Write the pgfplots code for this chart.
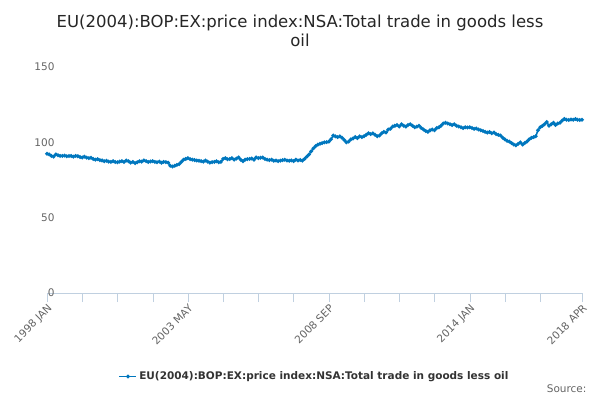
\documentclass[border=0pt]{standalone}
\usepackage{pgfplots}
\pgfplotsset{compat=1.18}
\usepackage{fontspec}
\setmainfont{DejaVu Sans}
\definecolor{ser}{RGB}{0,119,190}
\definecolor{tk}{RGB}{100,100,100}
\definecolor{tc}{RGB}{192,208,224}
\begin{document}
\begin{tikzpicture}[x=1pt,y=1pt]
\path[use as bounding box] (0,0) rectangle (600,-400);
\node[font=\fontsize{16.5}{19}\selectfont, align=center, text=black!85] at (300,-31) {EU(2004):BOP:EX:price index:NSA:Total trade in goods less\\oil};
\begin{axis}[at={(47pt,-293pt)}, anchor=origin, scale only axis, width=535pt, height=226pt,
 xmin=0, xmax=243, ymin=0, ymax=150,
 axis x line*=bottom, axis y line=none,
 ytick={0,50,100,150}, ymajorgrids, grid style={draw=black!12},
 x axis line style={draw=tc}, y axis line style={draw=none},
 xtick={0,64,128,192,243}, xticklabels={1998 JAN,2003 MAY,2008 SEP,2014 JAN,2018 APR},
 minor xtick={16,32,48,80,96,112,144,160,176,208,224},
 xtick style={draw=tc}, minor tick length=9pt, major tick length=9pt,
 tick align=outside,
 xticklabel style={rotate=45, anchor=north east, font=\fontsize{10.5}{12}\selectfont, text=tk, inner sep=1pt},
 clip=false,
 /pgf/number format/assume math mode=true,
 legend style={at={(0.5,-0.33)}, anchor=north, draw=none, font=\bfseries\fontsize{10.5}{12}\selectfont, text=black!80},
 legend image post style={sharp plot},
 ]
 \foreach \v in {0,50,100,150} {\edef\t{\noexpand\node[anchor=east, font=\noexpand\fontsize{10.5}{12}\noexpand\selectfont, text=tk] at ([xshift=11pt]axis cs:0,\v) {\v};}\t}
\addplot[color=ser, line width=1.6pt, mark=*, mark size=1pt] table[x expr=\coordindex, y index=0] {
y
92.5
92
91
90.5
92
91.5
91
91
91.2
90.8
91
91
90.5
91
90.8
90.2
90
90.5
89.8
89.5
89.8
89
88.5
88.8
88.2
88
87.5
87.8
87.2
87
87.5
87
86.8
87.2
87.5
87
88
87.5
86.5
87
86.2
86.8
87.5
87.2
88
87.5
87
87.3
87.5
87
86.8
87.2
86.5
87
86.8
86.5
84.5
84
84.5
85
85.5
87
88.5
89
89.5
88.8
88.5
88.2
88
87.8
87.5
87.2
88
87.2
86.5
86.8
87
87.5
86.8
87
89
89.5
88.8
89
89.5
88.5
89.2
90
88.5
87.5
88.5
88.8
89
89.2
88.5
90
89.5
89.8
90
89
88.5
88.2
88.5
87.8
88
87.5
87.8
88.2
88.5
88
87.8
88
87.5
88.5
88
88.3
87.8
89
90.5
92
94
96
97.5
98.5
99
99.5
100
100.2
100.5
102
104.5
104
103.5
104
103
101.5
100
100.5
102
102.5
103.5
102.8
104
103.5
104
105
106
105.5
106
105
104
104.5
106
107
106.5
108.5
109
110.5
111
111.5
110.5
112
111
110.5
111.5
112
111
110
110.5
111
109.5
108.5
107.5
107
108
108.5
108
109.5
110
111
112.5
113
112.5
112
111.5
112
111
110.5
110
109.5
110
109.8
110
109.5
109
109.2
108.5
108
107.5
107
106.5
106.8
106
106.5
105.5
105
104.5
103
102
101
100.5
99.5
98.5
98
99
100
98.5
99.5
100.5
102
103
103.5
104
108
110
111
112
113.5
111
112
113
111.5
112.5
113
114.5
115.5
115
114.8
115.2
115
115.5
115
114.8
115
};
\addlegendentry{EU(2004):BOP:EX:price index:NSA:Total trade in goods less oil}
\end{axis}
\node[anchor=east, font=\fontsize{10.5}{12}\selectfont, text=tk] at (590,-389) {Source:};
\end{tikzpicture}
\end{document}
